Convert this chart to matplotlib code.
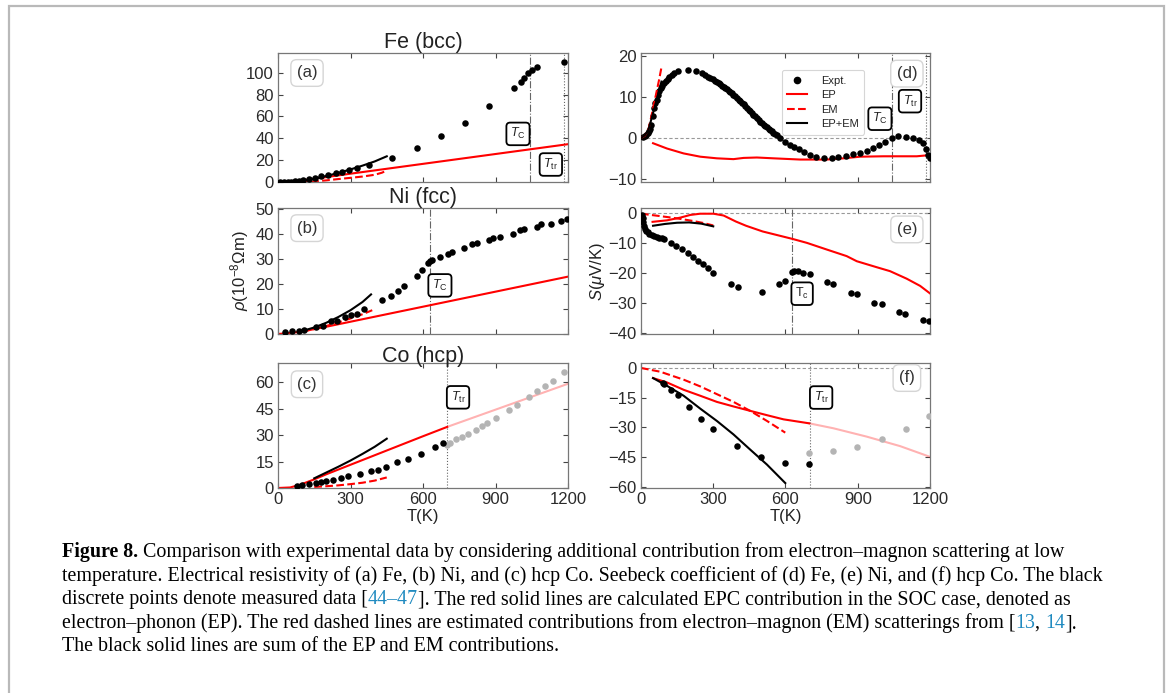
import numpy as np
import matplotlib
matplotlib.use('Agg')
import matplotlib.pyplot as plt
from matplotlib.lines import Line2D
from matplotlib.patches import Rectangle

plt.rcParams['font.family'] = ['Liberation Sans', 'DejaVu Sans']
plt.rcParams['mathtext.fontset'] = 'custom'
plt.rcParams['mathtext.rm'] = 'Liberation Sans'
plt.rcParams['mathtext.it'] = 'Liberation Sans:italic'
plt.rcParams['mathtext.bf'] = 'Liberation Sans:bold'

# ---------------- data ----------------
# (a) Fe resistivity
fe_rho_T = [10, 25, 40, 55, 70, 85, 104, 129, 152, 177, 207, 242, 263, 294, 325, 375,
            473, 574, 673, 773, 872, 975, 1005, 1019, 1033, 1051, 1071, 1182]
fe_rho = [0.1, 0.1, 0.2, 0.3, 0.5, 0.9, 2.1, 3.1, 4.0, 5.2, 6.4, 8.3, 9.5, 11.0, 13.1, 15.3,
          22.3, 31.2, 42.2, 53.8, 69.1, 85.6, 91.1, 94.8, 99.4, 102.4, 104.9, 110.0]
fe_rho_ep_T = [0, 50, 100, 200, 300, 400, 600, 800, 1000, 1200]
fe_rho_ep = [0, 0.3, 1.5, 4.5, 7.6, 10.6, 16.6, 22.6, 28.6, 34.6]
fe_rho_em_T = [0, 100, 150, 200, 250, 300, 350, 400, 430, 450]
fe_rho_em = [0, 0.1, 0.5, 1.5, 2.7, 3.8, 5.0, 6.6, 8.5, 10.5]
fe_rho_sum_T = [0, 50, 100, 150, 200, 250, 300, 350, 400, 450]
fe_rho_sum = [0, 0.2, 1.2, 3.0, 5.5, 8.3, 11.5, 15.0, 18.8, 23.5]

# (b) Ni resistivity
ni_rho_T = [30, 59, 86, 108, 159, 187, 221, 245, 279, 304, 328, 355, 429, 467, 495, 523,
            574, 597, 622, 629, 639, 671, 705, 722, 771, 802, 823, 875, 889, 919, 971,
            1000, 1019, 1071, 1088, 1130, 1171, 1196]
ni_rho = [0.7, 1.1, 1.1, 1.7, 2.8, 3.2, 5.1, 5.3, 6.8, 7.4, 8.1, 10.0, 13.7, 15.0, 17.3, 19.3,
          23.0, 25.4, 28.3, 29.0, 29.5, 30.9, 31.9, 32.8, 34.4, 35.9, 36.4, 37.4, 38.2, 38.7, 40.0,
          41.4, 41.8, 42.7, 43.8, 44.1, 45.3, 46.0]
ni_rho_ep_T = [0, 50, 100, 200, 400, 600, 800, 1000, 1200]
ni_rho_ep = [0, 0.4, 1.0, 2.9, 6.9, 10.9, 14.9, 18.9, 22.9]
ni_rho_em_T = [100, 150, 200, 250, 300, 350, 390]
ni_rho_em = [1.0, 2.0, 3.2, 4.6, 6.2, 7.9, 9.5]
ni_rho_sum_T = [100, 150, 200, 250, 300, 350, 385]
ni_rho_sum = [1.2, 2.6, 4.5, 6.8, 9.5, 12.8, 15.8]

# (c) hcp Co resistivity (grey = above T_tr)
co_rho_T = [79, 100, 129, 159, 177, 198, 228, 259, 290, 339, 383, 412, 445, 494, 539, 592, 650, 682]
co_rho = [0.9, 1.5, 2.1, 2.8, 3.6, 3.9, 4.7, 5.6, 6.75, 8.1, 9.75, 10.5, 12.0, 14.6, 16.3, 19.5, 23.1, 25.3]
co_rho_hi_T = [698, 712, 736, 760, 788, 818, 843, 864, 903, 954, 989, 1040, 1071, 1103, 1136, 1182]
co_rho_hi = [24.4, 25.3, 27.6, 29.1, 30.4, 32.8, 35.4, 36.9, 39.75, 44.1, 47.4, 51.9, 54.9, 58.1, 60.6, 66.0]
co_rho_ep_T = [0, 50, 80, 100, 150, 200, 300, 400, 500, 600, 700]
co_rho_ep = [0, 0.3, 1.4, 2.3, 4.9, 7.8, 13.2, 18.6, 24.0, 29.4, 34.7]
co_rho_ep_hi_T = [700, 800, 900, 1000, 1100, 1200]
co_rho_ep_hi = [34.7, 39.6, 44.5, 49.4, 54.3, 59.2]
co_rho_em_T = [150, 200, 250, 300, 350, 400, 450]
co_rho_em = [0.6, 1.0, 1.5, 2.2, 3.0, 4.2, 6.0]
co_rho_sum_T = [150, 200, 250, 300, 350, 400, 450]
co_rho_sum = [5.5, 8.8, 12.1, 15.6, 19.4, 23.4, 28.0]

# (d) Fe Seebeck
fe_S_T = [7, 15, 21, 27, 32, 37, 42, 48, 55, 60, 65, 70, 76, 82, 87, 95, 104, 111, 118, 128,
          138, 155, 197, 228, 252, 265, 277, 288, 298, 307, 315, 323, 330, 337, 343, 350, 357,
          364, 370, 377, 384, 391, 398, 405, 412, 419, 426, 433, 440, 447, 453, 460, 467, 474,
          481, 488, 495, 502, 509, 516, 523, 530, 536, 543, 550, 557, 564, 577, 598, 619, 637,
          658, 677, 700, 727, 760, 792, 820, 850, 879, 910, 937, 965, 988, 1013, 1041, 1069,
          1101, 1128, 1156, 1172, 1183, 1193, 1200]
fe_S = [0.2, 0.4, 0.7, 1.1, 1.6, 2.3, 3.2, 5.3, 7.4, 8.5, 9.4, 10.5, 11.5, 12.2, 12.7, 13.4,
        14.0, 14.5, 15.0, 15.5, 15.9, 16.3, 16.7, 16.3, 15.8, 15.4, 15.0, 14.7, 14.4, 14.0,
        13.6, 13.4, 13.1, 12.8, 12.5, 12.2, 11.9, 11.5, 11.2, 10.9, 10.5, 10.2, 9.8, 9.4, 9.0,
        8.6, 8.2, 7.8, 7.4, 6.9, 6.5, 6.1, 5.7, 5.3, 4.9, 4.4, 4.0, 3.6, 3.2, 2.9, 2.6, 2.3,
        2.0, 1.6, 1.3, 1.0, 0.7, -0.1, -0.9, -1.7, -2.2, -2.8, -3.4, -4.2, -4.6, -4.8, -4.8,
        -4.7, -4.5, -4.0, -3.6, -3.1, -2.4, -1.7, -0.9, -0.1, 0.5, 0.3, 0.1, -0.5, -1.3,
        -2.6, -4.2, -5.0]
fe_S_ep_T = [50, 108, 177, 246, 315, 384, 426, 481, 550, 661, 771, 841, 910, 1006, 1145, 1200]
fe_S_ep = [-1.3, -2.6, -3.8, -4.6, -5.0, -5.2, -4.9, -4.8, -5.0, -5.3, -5.3, -5.0, -4.6, -4.5, -4.5, -4.2]
fe_S_em_T = [0, 15, 30, 45, 60, 75, 85]
fe_S_em = [0, 0.5, 1.8, 5.8, 10.0, 14.2, 17.3]
fe_S_sum_T = [0, 15, 30, 45, 60, 75, 85]
fe_S_sum = [0, 0.6, 1.8, 5.0, 8.3, 11.5, 13.8]

# (e) Ni Seebeck
ni_S_T = [4, 7, 10, 14, 18, 21, 28, 35, 45, 55, 65, 76, 87, 97, 125, 145, 170, 194, 215, 235,
          256, 277, 300, 373, 401, 502, 571, 599, 626, 637, 650, 672, 700, 771, 799, 871, 896,
          969, 1000, 1071, 1096, 1170, 1197]
ni_S = [-0.5, -1.5, -2.8, -4.2, -5.2, -5.8, -6.4, -6.9, -7.3, -7.6, -7.9, -8.2, -8.4, -8.7,
        -9.8, -10.9, -12.0, -13.3, -14.6, -15.8, -16.9, -18.2, -19.8, -23.7, -24.5, -26.2,
        -23.7, -22.6, -19.6, -19.3, -19.1, -19.8, -20.2, -22.8, -23.5, -26.4, -27.0, -29.8,
        -30.3, -32.8, -33.4, -35.5, -35.9]
ni_S_ep_T = [48, 108, 163, 205, 246, 301, 343, 394, 436, 505, 560, 630, 689, 771, 854, 896,
             979, 1034, 1103, 1159, 1200]
ni_S_ep = [-2.9, -2.4, -1.5, -0.6, -0.2, -0.2, -0.8, -2.8, -4.2, -6.1, -7.2, -8.6, -9.9, -12.1,
           -14.3, -16.0, -18.0, -19.3, -21.8, -24.2, -26.7]
ni_S_em_T = [0, 60, 118, 170, 215, 260, 300]
ni_S_em = [-0.2, -0.8, -1.4, -2.0, -2.6, -3.3, -4.1]
ni_S_sum_T = [50, 100, 150, 200, 250, 300]
ni_S_sum = [-4.2, -3.6, -3.2, -3.1, -3.5, -4.4]

# (f) hcp Co Seebeck (grey = above T_tr)
co_S_T = [90, 97, 124, 152, 198, 249, 299, 398, 499, 599, 698]
co_S = [-7.5, -8.1, -11.0, -13.7, -19.9, -25.5, -30.9, -39.4, -45.0, -47.8, -48.2]
co_S_hi_T = [698, 799, 896, 1000, 1099, 1196]
co_S_hi = [-42.8, -41.9, -39.7, -36.0, -30.9, -24.2]
co_S_ep_T = [50, 108, 177, 246, 315, 384, 453, 523, 592, 698]
co_S_ep = [-5.1, -7.3, -11.0, -14.0, -17.1, -19.4, -21.6, -23.8, -25.9, -27.9]
co_S_ep_hi_T = [698, 799, 937, 1076, 1200]
co_S_ep_hi = [-27.9, -30.4, -34.6, -39.4, -44.8]
co_S_em_T = [0, 80, 177, 246, 315, 384, 453, 523, 599]
co_S_em = [0, -1.9, -5.9, -9.3, -13.2, -17.1, -21.6, -26.7, -32.6]
co_S_sum_T = [50, 108, 177, 246, 315, 384, 453, 523, 599]
co_S_sum = [-5.1, -9.0, -14.0, -20.5, -26.7, -33.5, -41.1, -48.7, -58.0]

# transition temperatures
fe_Tc, fe_Ttr, ni_Tc, co_Ttr = 1043, 1185, 627, 700

W, H = 1168, 693
RED = '#ff0000'
GREY_PT = '#b4b4b4'
AX_COL = '#444444'

fig = plt.figure(figsize=(W / 100, H / 100), dpi=100)
fig.patch.set_facecolor('white')

# light frame round the whole page snippet
fig.add_artist(Rectangle((8.5 / W, -0.05), (1164 - 8.5) / W, 1 - 6 / H + 0.05,
                         transform=fig.transFigure, fill=False, ec='#b9b9b9', lw=1.6))


def px_axes(left, top, right, bottom):
  return fig.add_axes([left / W, 1 - bottom / H, (right - left) / W, (bottom - top) / H])


def style_axes(ax, ylim, yticks, show_x):
  ax.set_xlim(0, 1200)
  ax.set_ylim(*ylim)
  ax.set_yticks(yticks)
  ax.set_xticks([0, 300, 600, 900, 1200])
  ax.tick_params(direction='in', top=True, right=True, length=3.5, width=0.8,
                 labelsize=12, colors=AX_COL, labelcolor='#2a2a2a', pad=3)
  if not show_x:
    ax.tick_params(labelbottom=False)
  for sp in ax.spines.values():
    sp.set_color('#777777')
    sp.set_linewidth(0.9)


def tag(ax, s, x=0.1, y=0.84):
  ax.text(x, y, s, transform=ax.transAxes, fontsize=12, color='#333333', ha='center', va='center',
          bbox=dict(boxstyle='round,pad=0.35', fc='white', ec='#d5d5d5', lw=1.0))


def tbox(ax, x, y, s):
  ax.text(x, y, s, fontsize=9, ha='center', va='center', color='#222222',
          bbox=dict(boxstyle='round,pad=0.3', fc='white', ec='black', lw=1.3))


def vlines(ax, tc=None, ttr=None):
  if tc is not None:
    ax.axvline(tc, color='#666666', lw=0.8, ls='-.')
  if ttr is not None:
    ax.axvline(ttr, color='#666666', lw=0.8, ls=':')


def zero_line(ax):
  ax.axhline(0, color='#999999', lw=0.8, ls='--', dashes=(3, 2))


ms = 22
lw = 1.5

# columns and rows in pixels
L1, R1, L2, R2 = 278, 568, 641, 930
rows = [(53, 182), (208, 334), (363, 488)]

ax_a = px_axes(L1, rows[0][0], R1, rows[0][1])
ax_b = px_axes(L1, rows[1][0], R1, rows[1][1])
ax_c = px_axes(L1, rows[2][0], R1, rows[2][1])
ax_d = px_axes(L2, rows[0][0], R2, rows[0][1])
ax_e = px_axes(L2, rows[1][0], R2, rows[1][1])
ax_f = px_axes(L2, rows[2][0], R2, rows[2][1])

# (a)
ax = ax_a
vlines(ax, fe_Tc, fe_Ttr)
ax.plot(fe_rho_ep_T, fe_rho_ep, color=RED, lw=lw)
ax.plot(fe_rho_em_T, fe_rho_em, color=RED, lw=lw, ls='--')
ax.plot(fe_rho_sum_T, fe_rho_sum, color='k', lw=lw)
ax.scatter(fe_rho_T, fe_rho, s=ms, color='k', zorder=5, linewidths=0)
style_axes(ax, (0, 118), [0, 20, 40, 60, 80, 100], False)
ax.set_title('Fe (bcc)', fontsize=15.5, color='#222222', pad=1)
tag(ax, '(a)', 0.1, 0.845)
tbox(ax, 993, 44, r'$T_\mathrm{C}$')
tbox(ax, 1129, 16, r'$T_\mathrm{tr}$')

# (b)
ax = ax_b
vlines(ax, ni_Tc)
ax.plot(ni_rho_ep_T, ni_rho_ep, color=RED, lw=lw)
ax.plot(ni_rho_em_T, ni_rho_em, color=RED, lw=lw, ls='--')
ax.plot(ni_rho_sum_T, ni_rho_sum, color='k', lw=lw)
ax.scatter(ni_rho_T, ni_rho, s=ms, color='k', zorder=5, linewidths=0)
style_axes(ax, (0, 50.3), [0, 10, 20, 30, 40, 50], False)
ax.set_title('Ni (fcc)', fontsize=15.5, color='#222222', pad=1)
ax.set_ylabel(r'$\rho$(10$^{-8}\Omega$m)', fontsize=12, color='#222222', labelpad=3)
tag(ax, '(b)', 0.1, 0.84)
tbox(ax, 670, 19.4, r'$T_\mathrm{C}$')

# (c)
ax = ax_c
vlines(ax, ttr=co_Ttr)
ax.plot(co_rho_ep_hi_T, co_rho_ep_hi, color=RED, lw=lw, alpha=0.3)
ax.plot(co_rho_ep_T, co_rho_ep, color=RED, lw=lw)
ax.plot(co_rho_em_T, co_rho_em, color=RED, lw=lw, ls='--')
ax.plot(co_rho_sum_T, co_rho_sum, color='k', lw=lw)
ax.scatter(co_rho_hi_T, co_rho_hi, s=ms, color=GREY_PT, zorder=5, linewidths=0)
ax.scatter(co_rho_T, co_rho, s=ms, color='k', zorder=5, linewidths=0)
style_axes(ax, (0, 71), [0, 15, 30, 45, 60], True)
ax.set_title('Co (hcp)', fontsize=15.5, color='#222222', pad=1)
ax.set_xlabel('T(K)', fontsize=12, color='#222222', labelpad=1)
tag(ax, '(c)', 0.1, 0.83)
tbox(ax, 745, 51.5, r'$T_\mathrm{tr}$')

# (d)
ax = ax_d
zero_line(ax)
vlines(ax, fe_Tc, fe_Ttr)
ax.plot(fe_S_ep_T, fe_S_ep, color=RED, lw=lw)
ax.scatter(fe_S_T, fe_S, s=ms, color='k', zorder=5, linewidths=0)
ax.plot(fe_S_em_T, fe_S_em, color=RED, lw=lw, ls='--', zorder=6)
ax.plot(fe_S_sum_T, fe_S_sum, color='k', lw=lw, zorder=6)
style_axes(ax, (-10.8, 20.8), [-10, 0, 10, 20], False)
tag(ax, '(d)', 0.92, 0.84)
tbox(ax, 992, 4.7, r'$T_\mathrm{C}$')
tbox(ax, 1117, 9.0, r'$T_\mathrm{tr}$')
handles = [Line2D([], [], marker='o', ls='none', color='k', ms=4.5),
           Line2D([], [], color=RED, lw=lw),
           Line2D([], [], color=RED, lw=lw, ls='--'),
           Line2D([], [], color='k', lw=lw)]
leg = ax.legend(handles, ['Expt.', 'EP', 'EM', 'EP+EM'], loc='upper left',
                bbox_to_anchor=(0.468, 0.91), fontsize=8, frameon=True, fancybox=True,
                handlelength=1.8, handletextpad=1.2, labelspacing=0.4, borderpad=0.5)
leg.get_frame().set_edgecolor('#cccccc')
leg.get_frame().set_linewidth(0.8)
for t in leg.get_texts():
  t.set_color('#222222')

# (e)
ax = ax_e
zero_line(ax)
vlines(ax, ni_Tc)
ax.plot(ni_S_ep_T, ni_S_ep, color=RED, lw=lw)
ax.plot(ni_S_em_T, ni_S_em, color=RED, lw=lw, ls='--')
ax.plot(ni_S_sum_T, ni_S_sum, color='k', lw=lw)
ax.scatter(ni_S_T, ni_S, s=ms, color='k', zorder=5, linewidths=0)
style_axes(ax, (-40.2, 1.7), [-40, -30, -20, -10, 0], False)
ax.set_ylabel(r'$S$($\mu$V/K)', fontsize=12, color='#222222', labelpad=1)
tag(ax, '(e)', 0.92, 0.83)
tbox(ax, 669, -26.8, r'T$_\mathrm{c}$')

# (f)
ax = ax_f
zero_line(ax)
vlines(ax, ttr=co_Ttr)
ax.plot(co_S_ep_hi_T, co_S_ep_hi, color=RED, lw=lw, alpha=0.3)
ax.plot(co_S_ep_T, co_S_ep, color=RED, lw=lw)
ax.plot(co_S_em_T, co_S_em, color=RED, lw=lw, ls='--')
ax.plot(co_S_sum_T, co_S_sum, color='k', lw=lw)
ax.scatter(co_S_hi_T, co_S_hi, s=ms, color=GREY_PT, zorder=5, linewidths=0)
ax.scatter(co_S_T, co_S, s=ms, color='k', zorder=5, linewidths=0)
style_axes(ax, (-60.5, 2.5), [-60, -45, -30, -15, 0], True)
ax.set_xlabel('T(K)', fontsize=12, color='#222222', labelpad=1)
tag(ax, '(f)', 0.92, 0.88)
tbox(ax, 748, -14.9, r'$T_\mathrm{tr}$')

# ---------------- caption ----------------
BLUE = '#1f8ac0'
cap_font = ['Liberation Serif', 'DejaVu Serif']
cap_lines = [
  [('Figure 8.', 'bold', 'k'),
   (' Comparison with experimental data by considering additional contribution from electron–magnon scattering at low', 'normal', 'k')],
  [('temperature. Electrical resistivity of (a) Fe, (b) Ni, and (c) hcp Co. Seebeck coefficient of (d) Fe, (e) Ni, and (f) hcp Co. The black', 'normal', 'k')],
  [('discrete points denote measured data [', 'normal', 'k'), ('44–47', 'normal', BLUE),
   ('], The red solid lines are calculated EPC contribution in the SOC case, denoted as'.replace('],', '].'), 'normal', 'k')],
  [('electron–phonon (EP). The red dashed lines are estimated contributions from electron–magnon (EM) scatterings from [', 'normal', 'k'),
   ('13', 'normal', BLUE), (', ', 'normal', 'k'), ('14', 'normal', BLUE), ('].', 'normal', 'k')],
  [('The black solid lines are sum of the EP and EM contributions.', 'normal', 'k')],
]

renderer = fig.canvas.get_renderer()


def text_width(s, size, weight):
  # width including trailing spaces: measure with a bar and take the bar off
  t1 = fig.text(0, 0, s + '|', fontsize=size, fontweight=weight, family=cap_font)
  t2 = fig.text(0, 0, '|', fontsize=size, fontweight=weight, family=cap_font)
  w = t1.get_window_extent(renderer).width - t2.get_window_extent(renderer).width
  t1.remove()
  t2.remove()
  return w


# size chosen so the longest line spans the same width as in the page
probe = text_width(cap_lines[1][0][0], 10, 'normal')
cap_size = 10 * (1104 - 62) / probe

cap_x0 = 62
cap_base = [557, 581, 604, 628, 651]
for line, yb in zip(cap_lines, cap_base):
  x = cap_x0
  for s, weight, col in line:
    fig.text(x / W, 1 - yb / H, s, fontsize=cap_size, fontweight=weight, color=col,
             family=cap_font, va='baseline', ha='left')
    x += text_width(s, cap_size, weight)

fig.savefig('out.png', dpi=100)
